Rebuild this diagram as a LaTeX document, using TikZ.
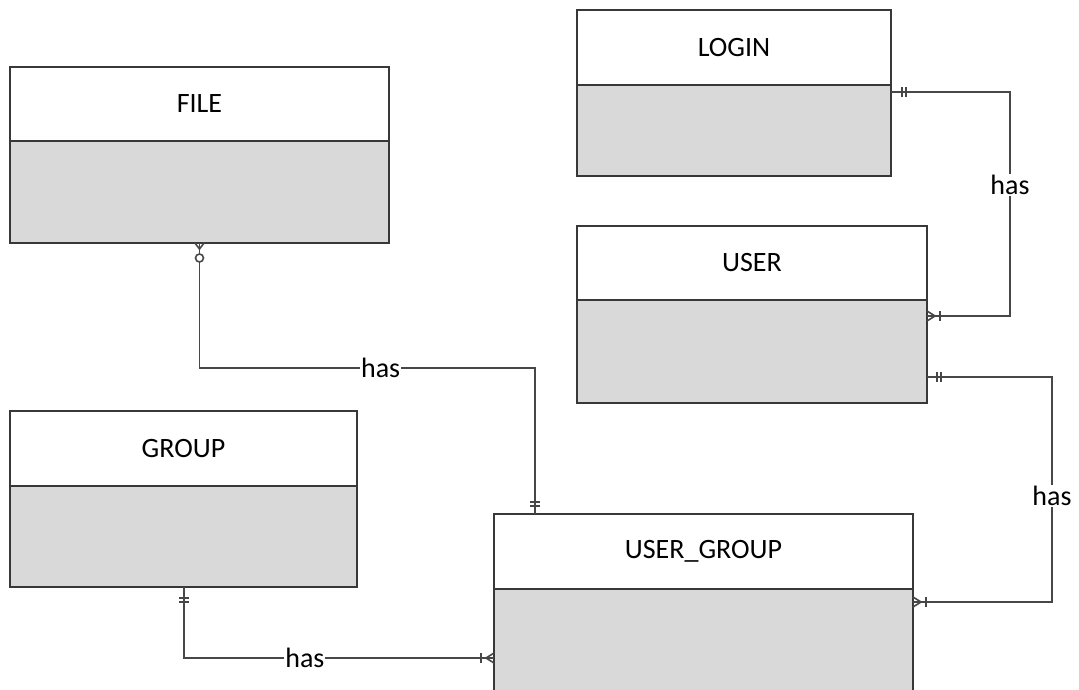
\documentclass[tikz,border=0pt]{standalone}
\usepackage{fontspec}
\setmainfont{Carlito}
\usetikzlibrary{positioning,decorations.markings}

\definecolor{erline}{HTML}{474747}
\definecolor{erbody}{HTML}{D9D9D9}

\tikzset{
    entity/.style={draw=black!78, line width=2pt, anchor=north west, inner sep=0pt, outer sep=0pt, font=\fontsize{28}{32}\selectfont},
    entitybody/.style={entity, fill=erbody},
    rel/.style={draw=erline, line width=1.9pt},
    relmark/.style={draw=erline, line width=1.6pt},
    lbl/.style={fill=white, inner sep=1pt, font=\fontsize{28}{32}\selectfont},
    one start/.style={postaction={decorate, decoration={markings,
        mark=at position #1 with {\draw[relmark] (0,-5pt) -- (0,5pt);},
        mark=at position #1+4pt with {\draw[relmark] (0,-5pt) -- (0,5pt);}}}},
    one end/.style={postaction={decorate, decoration={markings,
        mark=at position -#1 with {\draw[relmark] (0,-5pt) -- (0,5pt);},
        mark=at position -#1-4pt with {\draw[relmark] (0,-5pt) -- (0,5pt);}}}},
    one many end/.style={postaction={decorate, decoration={markings,
        mark=at position -13pt with {\draw[relmark] (0,-5pt) -- (0,5pt);},
        mark=at position -0.01pt with {\draw[relmark] (0,-5pt) -- (-8pt,0) -- (0,5pt);}}}},
    zero many start/.style={postaction={decorate, decoration={markings,
        mark=at position 0.01pt with {\draw[relmark] (0,-4.5pt) -- (6pt,0) -- (0,4.5pt);},
        mark=at position 15pt with {\draw[relmark, fill=white] (0,0) circle (4pt);}}}}
}

\begin{document}
\begin{tikzpicture}[x=1pt, y=-1pt]
    \useasboundingbox (0,0) rectangle (1079,689);
    \fill[white] (0,0) rectangle (1079,689);

    % entities
    \node[entity, minimum width=379pt, minimum height=74pt] (file) at (10,67) {FILE};
    \node[entitybody, minimum width=379pt, minimum height=102pt, below=0pt of file] (file-body) {};
    \node[entity, minimum width=314pt, minimum height=75pt] (login) at (577,10) {LOGIN};
    \node[entitybody, minimum width=314pt, minimum height=91pt, below=0pt of login] (login-body) {};
    \node[entity, minimum width=350pt, minimum height=74pt] (user) at (577,226) {USER};
    \node[entitybody, minimum width=350pt, minimum height=103pt, below=0pt of user] (user-body) {};
    \node[entity, minimum width=347pt, minimum height=75pt] (group) at (10,411) {GROUP};
    \node[entitybody, minimum width=347pt, minimum height=101pt, below=0pt of group] (group-body) {};
    \node[entity, minimum width=419pt, minimum height=75pt] (user-group) at (494,514) {USER\_GROUP};
    \node[entitybody, minimum width=419pt, minimum height=115pt, below=0pt of user-group] (user-group-body) {};

    % relationships
    \draw[rel, one start=11pt, one many end] ([yshift=-7pt]login-body.north east) -- (1010,92)
        -- node[lbl, pos=0.415] {has} (1010,316) -- ([yshift=-16pt]user-body.north east);
    \draw[rel, one start=10pt, one many end] ([yshift=-77pt]user-body.north east) -- (1052,377)
        -- node[lbl, pos=0.53] {has} (1052,602) -- ([yshift=-13pt]user-group-body.north east);
    \draw[rel, zero many start, one end=8pt] (file-body.south) -- ++(0,125)
        -- node[lbl, pos=0.54] {has} (535,368) -- ([xshift=41pt]user-group.north west);
    \draw[rel, one start=11pt, one many end] ([xshift=174pt]group-body.south west) -- (184,658)
        -- node[lbl, pos=0.39] {has} ([yshift=-69pt]user-group-body.north west);
\end{tikzpicture}
\end{document}
